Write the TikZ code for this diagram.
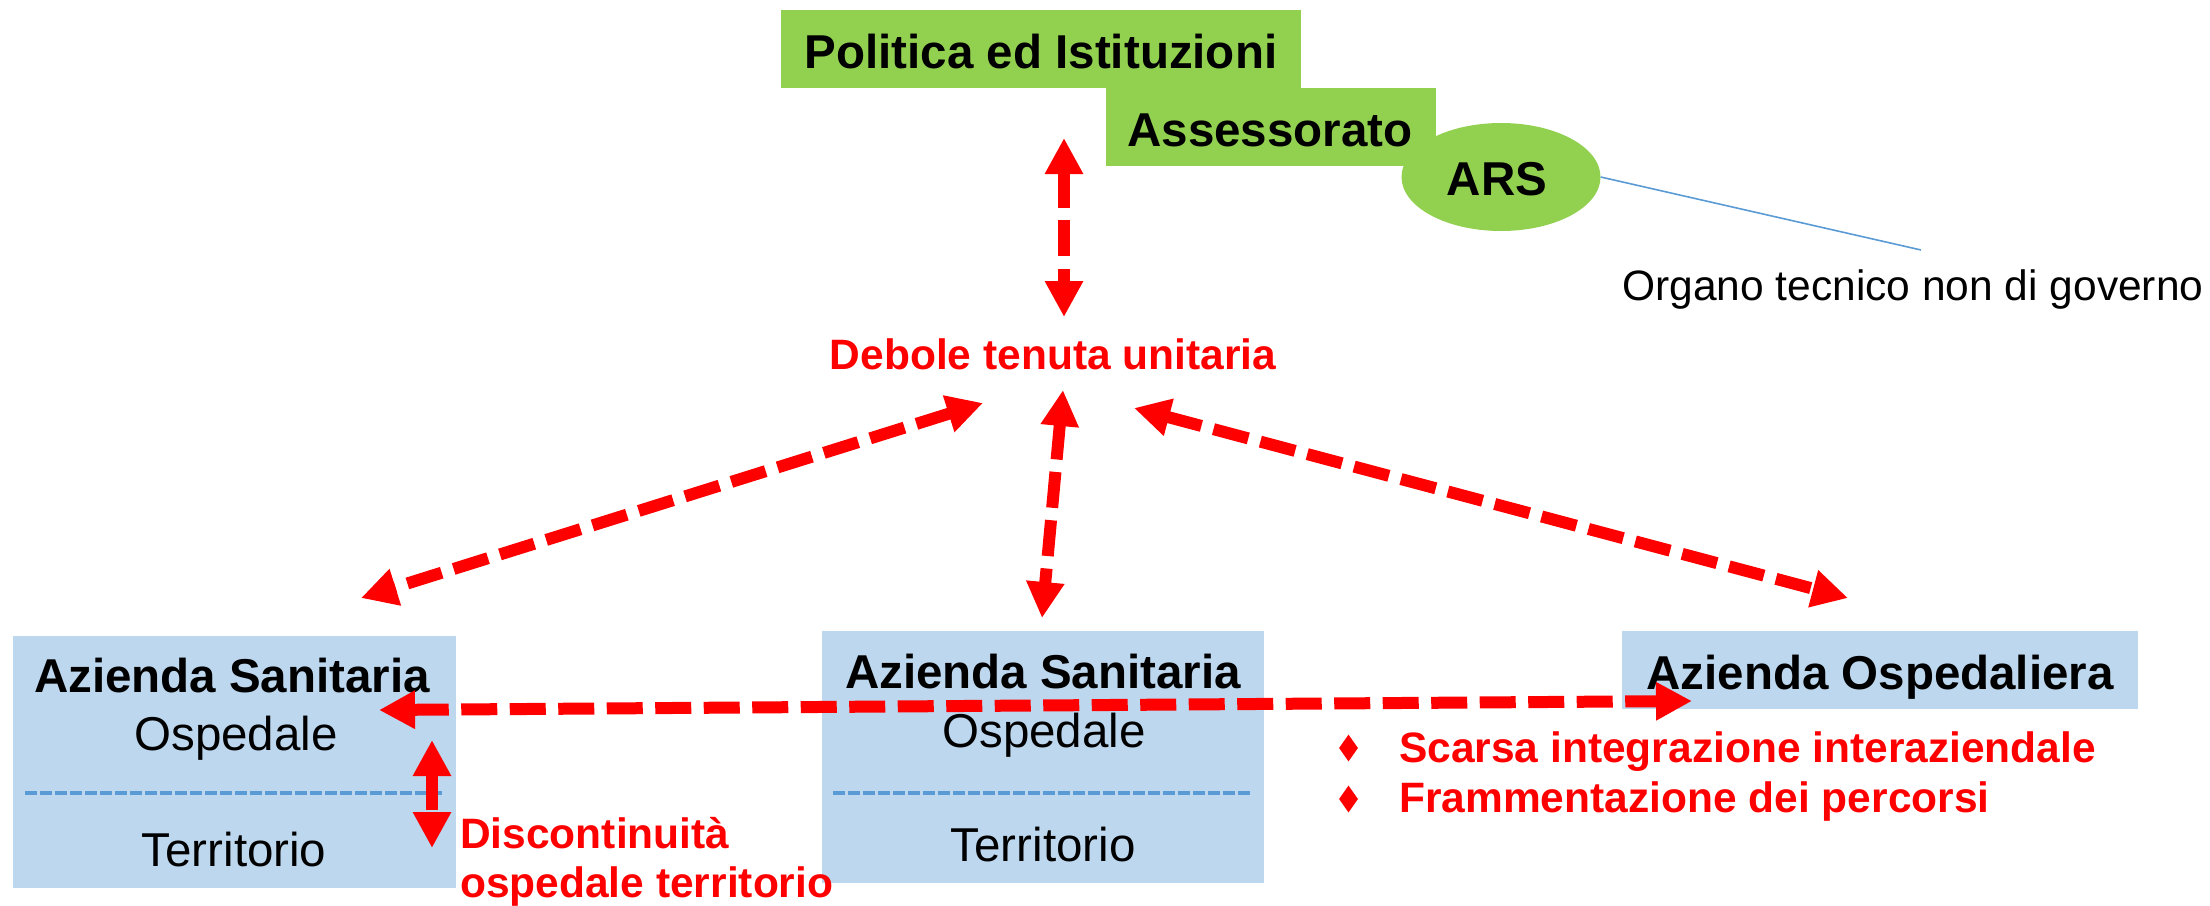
\documentclass[tikz,border=0pt]{standalone}
\usepackage{fontspec}
\setmainfont{Liberation Sans}
\usetikzlibrary{arrows.meta,shapes.geometric}
\definecolor{grn}{HTML}{92D050}
\definecolor{lblue}{HTML}{BDD7EE}
\definecolor{sepblue}{HTML}{5B9BD5}
\tikzset{
  big/.style={font=\fontsize{47.5}{57}\selectfont},
  mid/.style={font=\fontsize{42.5}{51}\selectfont},
  txt/.style={inner sep=0pt, anchor=base},
  gbox/.style={fill=grn, draw=none, inner sep=0pt},
  bbox/.style={fill=lblue, draw=none, inner sep=0pt},
  redarrow/.style={draw=red, line width=12pt, dash pattern=on 36pt off 12.5pt,
    {Triangle[length=36pt,width=36pt]}-{Triangle[length=36pt,width=36pt]}},
  sepline/.style={draw=sepblue, line width=4pt, dash pattern=on 11.5pt off 3.5pt},
  bullet/.style={diamond, fill=red, draw=none, inner sep=0pt, minimum width=19pt, minimum height=27pt}
}
\begin{document}
\begin{tikzpicture}[x=1pt,y=-1pt]
\useasboundingbox (0,0) rectangle (2210,905);
% green boxes
\node[gbox, minimum width=520pt, minimum height=78pt] (pol) at (1041,49) {};
\node[gbox, minimum width=330pt, minimum height=78pt] (ass) at (1271,127) {};
\node[gbox, ellipse, minimum width=199pt, minimum height=108pt] (ars) at (1501,177) {};
\node[txt, big, font=\fontsize{47.5}{57}\selectfont\bfseries] (polt) at (1041,68) {Politica ed Istituzioni};
\node[txt, font=\fontsize{47.5}{57}\selectfont\bfseries] (asst) at (1270,146) {Assessorato};
\node[txt, font=\fontsize{47.5}{57}\selectfont\bfseries] (arst) at (1497,195) {ARS};
% ARS note
\coordinate (notept) at (1921,250);
\draw[sepblue, line width=1.6pt] (ars.east) -- (notept);
\node[txt, anchor=base west, mid] (note) at (1622,300) {Organo tecnico non di governo};
% central label
\node[txt, text=red, font=\fontsize{42.5}{51}\selectfont\bfseries] (debole) at (1053,369) {Debole tenuta unitaria};
% blue boxes
\node[bbox, minimum width=443pt, minimum height=252pt] (lbox) at (234.5,762) {};
\node[bbox, minimum width=442pt, minimum height=252pt] (mbox) at (1043,757) {};
\node[bbox, minimum width=516pt, minimum height=78pt] (rbox) at (1880,670) {};
\draw[sepline] (25,793) -- (442,793);
\draw[sepline] (833,793) -- (1252,793);
\node[txt, font=\fontsize{47.5}{57}\selectfont\bfseries] (lat) at (232,692) {Azienda Sanitaria};
\node[txt, big] (lo) at (236,750) {Ospedale};
\node[txt, big] (lt) at (234,866) {Territorio};
\node[txt, font=\fontsize{47.5}{57}\selectfont\bfseries] (mat) at (1043,688) {Azienda Sanitaria};
\node[txt, big] (mo) at (1044,747) {Ospedale};
\node[txt, big] (mt) at (1043,861) {Territorio};
\node[txt, font=\fontsize{47.5}{57}\selectfont\bfseries] (rat) at (1880,689) {Azienda Ospedaliera};
% bullets
\node[bullet] (b1) at (1348.5,748) {};
\node[bullet] (b2) at (1348.5,799) {};
\node[txt, anchor=base west, text=red, font=\fontsize{42.5}{51}\selectfont\bfseries] (s1) at (1399,762) {Scarsa integrazione interaziendale};
\node[txt, anchor=base west, text=red, font=\fontsize{42.5}{51}\selectfont\bfseries] (s2) at (1399,812) {Frammentazione dei percorsi};
% discontinuita label
\node[txt, anchor=base west, text=red, font=\fontsize{42.5}{51}\selectfont\bfseries] (d1) at (460,848) {Discontinuità};
\node[txt, anchor=base west, text=red, font=\fontsize{42.5}{51}\selectfont\bfseries] (d2) at (460,897) {ospedale territorio};
% arrow endpoints
\coordinate (topA) at (1064,138);
\coordinate (topB) at (1064,317);
\coordinate (lA) at (983,403);
\coordinate (lB) at (361,598);
\coordinate (cA) at (1063,390);
\coordinate (cB) at (1042,618);
\coordinate (rA) at (1134,408);
\coordinate (rB) at (1848,598);
\coordinate (hA) at (379,710);
\coordinate (hB) at (1692,701);
\coordinate (vA) at (432,740);
\coordinate (vB) at (432,848);
\draw[redarrow] (topA) -- (topB);
\draw[redarrow] (lA) -- (lB);
\draw[redarrow] (cA) -- (cB);
\draw[redarrow] (rA) -- (rB);
\draw[redarrow] (hA) -- (hB);
\draw[redarrow] (vA) -- (vB);
\end{tikzpicture}
\end{document}
